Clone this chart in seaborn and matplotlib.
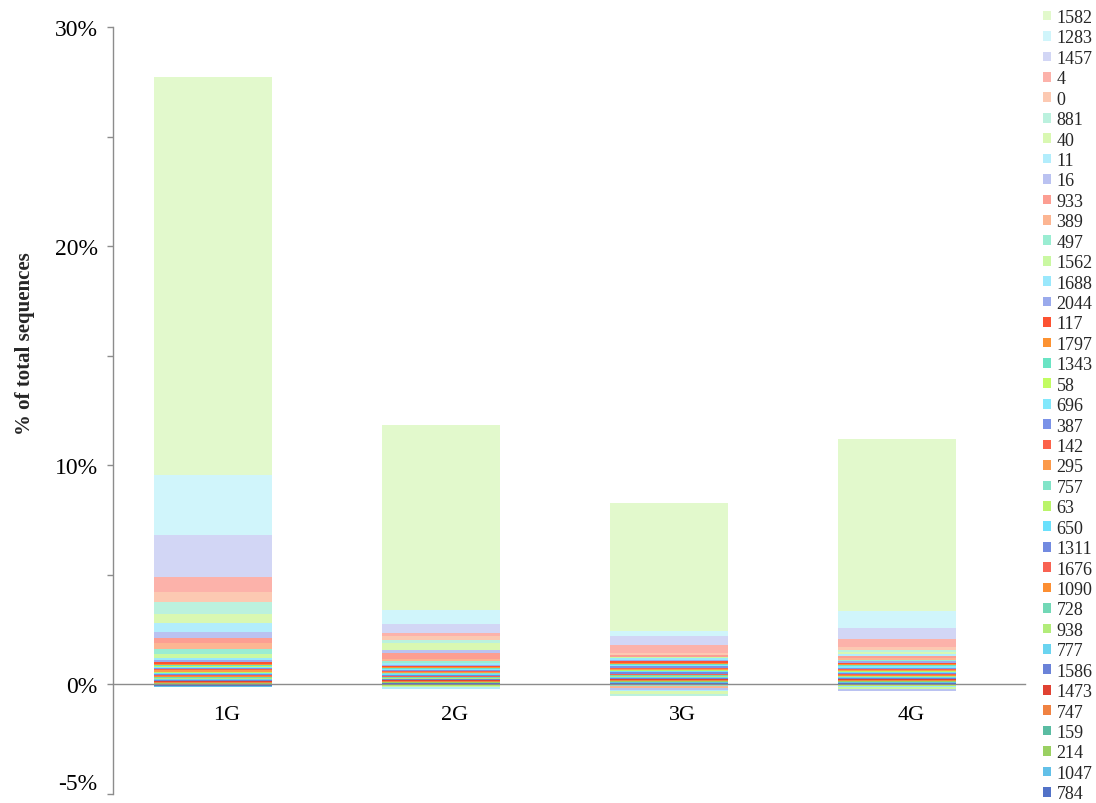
import numpy as np
import matplotlib
matplotlib.use('Agg')
import matplotlib.pyplot as plt
import seaborn as sns
from matplotlib.patches import Patch
from matplotlib.ticker import FixedLocator, FuncFormatter

# ---------------- data (legend order, top of stack first) ----------------
groups = ['1G', '2G', '3G', '4G']

series = ['1582', '1283', '1457', '4', '0', '881', '40', '11', '16', '933',
          '389', '497', '1562', '1688', '2044', '117', '1797', '1343', '58', '696',
          '387', '142', '295', '757', '63', '650', '1311', '1676', '1090', '728',
          '938', '777', '1586', '1473', '747', '159', '214', '1047', '784']

v_1G = [18.17, 2.74, 1.92, 0.68, 0.46, 0.55, 0.41, 0.41, 0.27, 0.27,
        0.27, 0.23, 0.18, 0.09, 0.07, 0.08, 0.06, 0.05, 0.05, 0.06,
        0.04, 0.05, 0.05, 0.04, 0.04, 0.05, 0.04, 0.04, 0.05, 0.04,
        0.04, 0.04, 0.05, 0.04, 0.04, 0.03, 0.04, -0.05, -0.07]

v_2G = [8.45, 0.64, 0.38, 0.18, 0.14, 0.14, 0.32, -0.06, 0.14, 0.27,
        0.10, 0.08, -0.08, 0.10, 0.06, 0.05, 0.04, 0.04, -0.06, 0.05,
        0.04, 0.04, 0.05, 0.03, 0.03, 0.04, 0.03, 0.04, 0.03, 0.03,
        0.03, 0.03, 0.04, 0.04, 0.03, 0.03, 0.02, 0.03, 0.04]

v_3G = [5.84, 0.23, 0.41, 0.37, 0.08, -0.10, -0.10, -0.07, -0.08, 0.10,
        -0.12, -0.06, 0.06, 0.08, 0.06, 0.05, 0.05, 0.04, 0.04, 0.05,
        0.06, 0.04, 0.04, 0.04, 0.03, 0.04, 0.08, 0.04, 0.04, 0.03,
        0.03, 0.04, 0.08, 0.03, 0.03, 0.03, 0.03, 0.04, 0.06]

v_4G = [7.85, 0.78, 0.50, 0.37, 0.14, 0.07, 0.10, 0.09, -0.08, 0.08,
        0.10, 0.06, -0.10, -0.06, 0.06, 0.05, 0.05, 0.04, -0.06, 0.10,
        0.05, 0.04, 0.04, 0.03, 0.03, 0.04, 0.06, 0.03, 0.04, 0.03,
        0.03, 0.04, 0.07, 0.03, 0.03, 0.03, 0.03, 0.04, 0.06]

colors = ['#e2f9cc', '#d0f5fb', '#d2d6f5', '#fcb2aa', '#fcc9b2', '#bbf1de',
          '#d9f8b2', '#b2edfc', '#bac2f1', '#fc9e92', '#fcb592', '#9aedd2',
          '#caf8a2', '#9ae8fc', '#9aaaec', '#fc5232', '#fc9232', '#6ae4c4',
          '#c2fc62', '#82e8fc', '#7a92e8', '#fc624a', '#fc9a4a', '#82e4c8',
          '#baf46a', '#6ae0fc', '#728ae0', '#f86252', '#fc8e32', '#72d8b6',
          '#b2ec7a', '#6ad4f0', '#6a82d8', '#e04232', '#f08242', '#5abca2',
          '#9ad062', '#62c0e8', '#5272c8']

# ---------------- figure ----------------
sns.set_theme(style='white')
plt.rcParams['font.family'] = ['Liberation Serif', 'DejaVu Serif']

fig = plt.figure(figsize=(10.96, 8.04), dpi=100)
ax = fig.add_axes([0.103, 0.0115, 0.832, 0.9535])

vals = np.array([v_1G, v_2G, v_3G, v_4G]).T      # (n_series, n_groups)
stack = vals[::-1]                                 # bottom of stack first
cols = colors[::-1]
pos = np.cumsum(np.clip(stack, 0, None), axis=0)
neg = np.cumsum(np.clip(stack, None, 0), axis=0)
n = len(stack)

# bars sit slightly left of the category centre, as in the reference
xpos = np.arange(len(groups)) - 0.061

for i in range(n - 1, -1, -1):
    sns.barplot(x=xpos, y=pos[i], color=cols[i], width=0.52, saturation=1,
                native_scale=True, linewidth=0, errorbar=None, ax=ax)
for i in range(n - 1, -1, -1):
    if np.any(neg[i] != 0):
        sns.barplot(x=xpos, y=neg[i], color=cols[i], width=0.52, saturation=1,
                    native_scale=True, linewidth=0, errorbar=None, ax=ax)

ax.set_xlim(-0.5, 3.5)
ax.set_ylim(-5, 30)

gray = '#8c8c8c'
for s in ['top', 'right']:
    ax.spines[s].set_visible(False)
ax.spines['left'].set_color(gray)
ax.spines['bottom'].set_color(gray)
ax.spines['bottom'].set_position(('data', 0))
ax.spines['left'].set_linewidth(1.0)
ax.spines['bottom'].set_linewidth(1.0)

ax.xaxis.set_major_locator(FixedLocator(list(range(len(groups)))))
ax.set_xticklabels(groups)
ax.xaxis.set_minor_locator(FixedLocator([0.5, 1.5, 2.5, 3.5]))
ax.tick_params(axis='x', which='major', length=0, pad=15, labelsize=16, labelcolor='black')
ax.tick_params(axis='x', which='minor', length=5, direction='out', color=gray, width=1)

labeled = {30, 20, 10, 0, -5}
ax.yaxis.set_major_locator(FixedLocator([-5, 0, 5, 10, 15, 20, 25, 30]))
ax.yaxis.set_major_formatter(FuncFormatter(
    lambda v, p: f'{int(round(v))}%' if int(round(v)) in labeled else ''))
ax.tick_params(axis='y', which='major', length=4, direction='out', color=gray,
               width=1, pad=7, labelsize=17, labelcolor='black', left=True)
ax.set_ylabel('')
ax.set_xlabel('')
ax.grid(False)

fig.canvas.draw()
for t in ax.get_yticklabels():
    if t.get_text() == '-5%':
        t.set_va('bottom')

fig.text(0.023, 0.572, '% of total sequences', rotation=90, va='center', ha='center',
         fontsize=15, fontweight='bold')

handles = [Patch(facecolor=c, edgecolor='none') for c in colors]
fig.legend(handles, series, loc='upper left', bbox_to_anchor=(1043 / 1096, 1 - 10 / 804),
           frameon=False, fontsize=13, handlelength=0.45, handleheight=0.45,
           handletextpad=0.3, labelspacing=0.19, borderpad=0, borderaxespad=0)

fig.savefig('out.png', dpi=100)
